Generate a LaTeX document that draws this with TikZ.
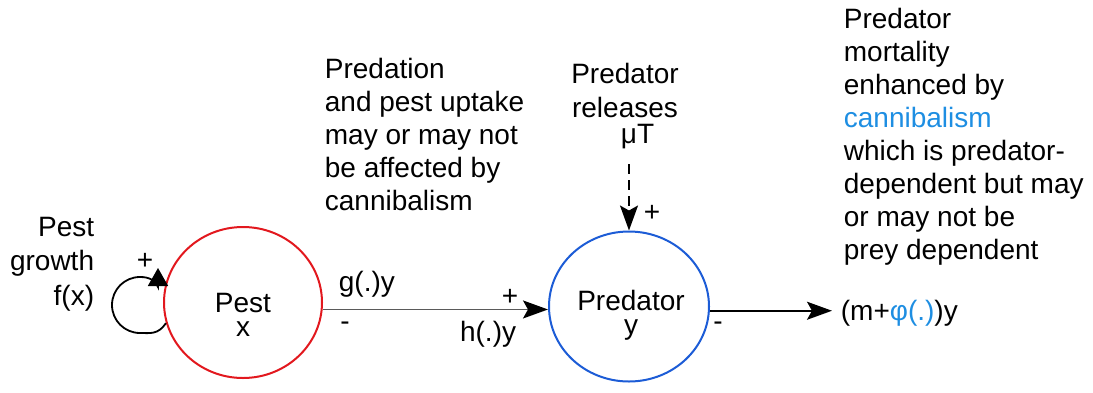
\documentclass[tikz,border=0pt]{standalone}
\usepackage{fontspec}
\setmainfont{Liberation Sans}
\usetikzlibrary{arrows.meta, shapes.geometric}
\definecolor{pestred}{RGB}{226,24,30}
\definecolor{predblue}{RGB}{28,92,214}
\definecolor{canblue}{RGB}{30,142,226}
\definecolor{feedgray}{RGB}{90,90,90}

\begin{document}
\begin{tikzpicture}[x=0.5pt, y=-0.5pt, >={Stealth[length=12.5pt, width=9pt, inset=2.5pt]}, line width=0.9pt,
    every node/.style={inner sep=0pt, font=\fontsize{14}{16.5}\selectfont},
    pop/.style={ellipse, draw, line width=1pt, minimum width=79pt, minimum height=75.5pt}]
            \useasboundingbox (0, 0) rectangle (1093, 392);
            \node[pop, draw=pestred] (0) at (243, 302.5) {};
            \node[pop, draw=predblue, minimum width=80pt, minimum height=75pt] (1) at (629, 306.5) {};
            \node[align=center, font=\fontsize{14}{12}\selectfont] (2) at (243, 315) {Pest\\x};
            \node[align=center, font=\fontsize{14}{12}\selectfont] (3) at (631, 315) {Predator\\y};
            \node[anchor=north east, align=right, font=\fontsize{14}{17.25}\selectfont] (4) at (95, 216) {Pest\\growth\\f(x)};
            \node[anchor=north west, align=left] (5) at (324, 57) {Predation\\and pest uptake\\may or may not\\be affected by\\cannibalism};
            \node[anchor=north, align=center, font=\fontsize{14}{17}\selectfont] (6) at (625, 62) {Predator\\releases};
            \node[anchor=base west] (7) at (620, 143) {μT};
            \node[anchor=north west, align=left] (8) at (843, 7) {Predator\\mortality\\enhanced by\\\textcolor{canblue}{cannibalism}\\which is predator-\\dependent but may\\or may not be\\prey dependent};
            \node[anchor=base west, inner xsep=4pt] (9) at (832, 320) {(m+\textcolor{canblue}{φ(.)})y};
            \node[anchor=base] (10) at (145, 269) {+};
            \node[anchor=base west] (11) at (338, 291) {g(.)y};
            \node[anchor=base] (12) at (345, 330) {-};
            \node[anchor=base] (13) at (510, 305) {+};
            \node[anchor=base east] (14) at (517, 341) {h(.)y};
            \node[anchor=base] (15) at (652, 221) {+};
            \node[anchor=base] (16) at (718, 330) {-};
            \draw[-{Triangle[length=9pt, width=10pt]}] (0.195) .. controls (158, 335) and (150, 333) .. (140, 333)
                .. controls (124.5, 333) and (112, 320.5) .. (112, 305)
                .. controls (112, 289.5) and (124.5, 277) .. (140, 277)
                .. controls (149, 277) and (155, 280) .. (158, 287) -- (158, 268);
            \draw[-{Stealth[length=12.5pt, width=9pt, inset=2.5pt, black]}, draw=feedgray] (0.355) -- (0.355 -| 1.west);
            \draw[->, dash pattern=on 5pt off 3pt] ([yshift=-7.5pt]7.south -| 1.north) -- (1.north);
            \draw[->] (1.-3) -- (1.-3 -| 9.west);
        \end{tikzpicture}
\end{document}
